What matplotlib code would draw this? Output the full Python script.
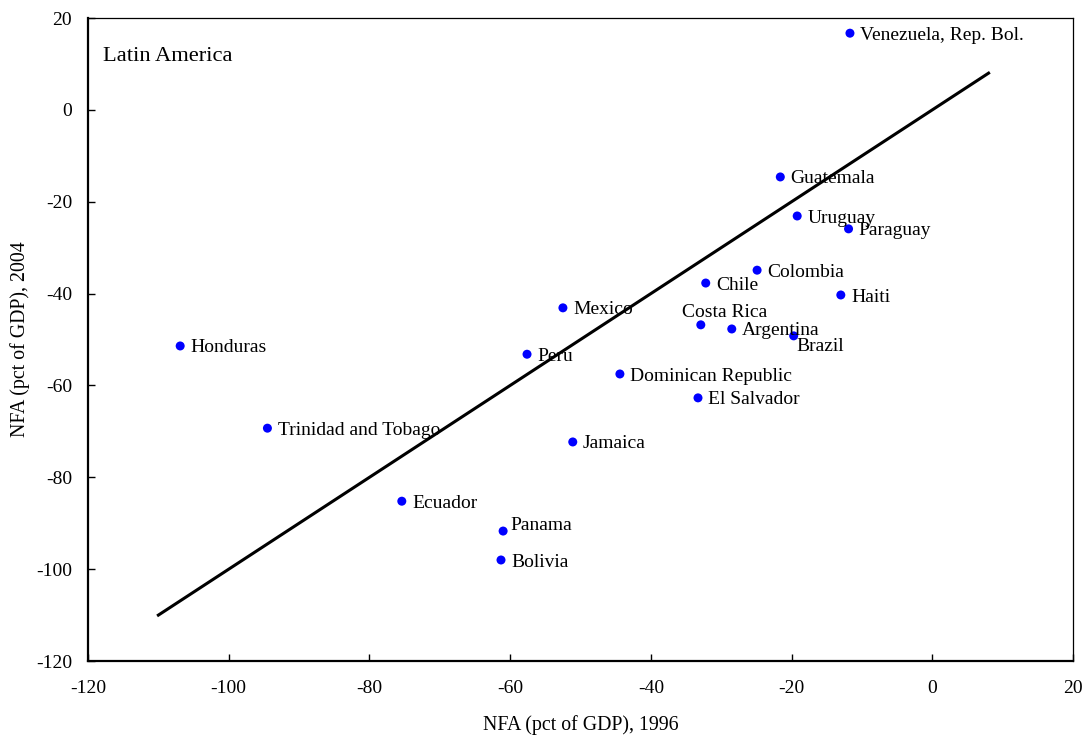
import matplotlib
matplotlib.use("Agg")
import matplotlib.pyplot as plt

countries = ["Venezuela, Rep. Bol.", "Guatemala", "Uruguay", "Paraguay", "Colombia",
             "Chile", "Haiti", "Mexico", "Costa Rica", "Argentina", "Brazil", "Honduras",
             "Peru", "Dominican Republic", "El Salvador", "Trinidad and Tobago", "Jamaica",
             "Ecuador", "Panama", "Bolivia"]
nfa_1996 = [-11.7, -21.6, -19.2, -11.9, -24.9, -32.2, -13.0, -52.5, -32.9, -28.5, -19.7,
            -106.9, -57.6, -44.4, -33.3, -94.5, -51.1, -75.4, -61.0, -61.3]
nfa_2004 = [16.7, -14.6, -23.1, -25.9, -34.9, -37.7, -40.3, -43.1, -46.8, -47.7, -49.2,
            -51.4, -53.2, -57.5, -62.7, -69.3, -72.3, -85.2, -91.7, -98.0]
line_x = [-110, 8]
line_y = [-110, 8]
x_ticks = [-120, -100, -80, -60, -40, -20, 0, 20]
y_ticks = [-120, -100, -80, -60, -40, -20, 0, 20]

plt.rcParams['font.family'] = ['Liberation Serif', 'DejaVu Serif']
plt.rcParams['axes.unicode_minus'] = False

fig = plt.figure(figsize=(10.88, 7.39), dpi=100)
ax = fig.add_axes([0.0809, 0.1055, 0.9862 - 0.0809, 0.9756 - 0.1055])

ax.plot(line_x, line_y, color='black', lw=2.2, zorder=2)
ax.scatter(nfa_1996, nfa_2004, s=42, color='#0000ff', zorder=3, edgecolors='none')

label_offsets = {"Costa Rica": (-13.7, 5.8),
                 "Brazil": (1.7, -10.8),
                 "Panama": (5.3, 0.7)}
for name, xv, yv in zip(countries, nfa_1996, nfa_2004):
    dx, dy = label_offsets.get(name, (7.3, -4.7))
    ax.annotate(name, (xv, yv), xytext=(dx, dy), textcoords='offset points',
                ha='left', va='baseline', fontsize=14, color='black', zorder=4)

ax.text(0.0155, 0.94, "Latin America", transform=ax.transAxes, fontsize=16.2,
        ha='left', va='center')

ax.set_xlim(-120, 20)
ax.set_ylim(-120, 20)
ax.set_xticks(x_ticks)
ax.set_yticks(y_ticks)
ax.tick_params(direction='in', length=5, width=1, labelsize=14,
               top=False, right=False)
ax.tick_params(axis='x', pad=14)
ax.tick_params(axis='y', pad=11.5)
ax.spines['left'].set_linewidth(1.6)
ax.spines['bottom'].set_linewidth(1.6)
ax.spines['top'].set_linewidth(0.9)
ax.spines['right'].set_linewidth(0.9)

ax.set_xlabel("NFA (pct of GDP), 1996", fontsize=14.3, labelpad=13)
ax.set_ylabel("NFA (pct of GDP), 2004", fontsize=14.3, labelpad=4.5)

fig.savefig("out.png", dpi=100)
